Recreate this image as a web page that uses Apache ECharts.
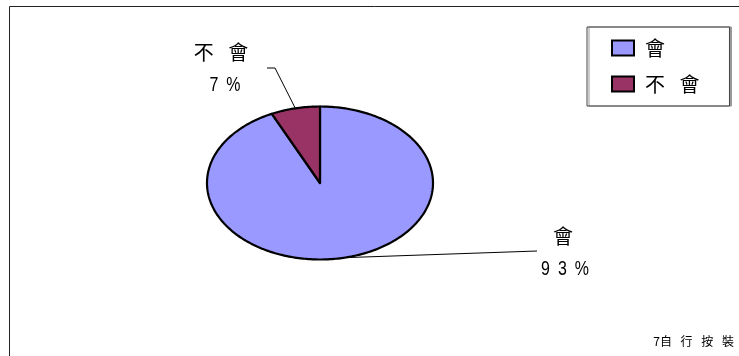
<!DOCTYPE html>
<html>
<head>
<meta charset="utf-8">
<script src="https://cdn.jsdelivr.net/npm/echarts@6/dist/echarts.min.js"></script>
<style>
html,body{margin:0;padding:0;background:#fff;}
#c{width:739px;height:356px;}
</style>
</head>
<body>
<div id="c"></div>
<script>
// ---- data ----
const categories = ['會', '不 會'];
const values = [93, 7];
const percentLabels = ['9 3 %', '7 %'];
const colors = ['#9999FF', '#993366'];
const footnote = '7自 行 按 裝';

// ---- layout ----
const CX = 320, CY = 183, RX = 113, RY = 76.5;
const FONT = "'Liberation Sans','Noto Sans CJK TC',sans-serif";
const CJK = "'Noto Sans CJK TC','Liberation Sans',sans-serif";
const labelLayout = [
  { line: [[537, 251]], name: [563, 236], value: [565, 269] },
  { line: [[275, 68], [267, 68]], name: [221, 52], value: [225, 85] }
];
const spaced = s => s.replace(/ /g, '\u2002 ');
const spacedNum = s => s.replace(/ /g, '\u2002');

const total = values.reduce((a, b) => a + b, 0);
function ell(t) { return [CX + RX * Math.sin(t), CY - RY * Math.cos(t)]; }

function makeRender(idx) {
  return function (params, api) {
    const v = api.value(0);
    let before = 0;
    for (let i = 0; i < idx; i++) before += values[i];
    const a0 = before / total * Math.PI * 2;
    const a1 = (before + v) / total * Math.PI * 2;
    const pts = [[CX, CY]];
    const n = Math.max(4, Math.ceil((a1 - a0) / (Math.PI / 180)));
    for (let k = 0; k <= n; k++) pts.push(ell(a0 + (a1 - a0) * k / n));
    const mid = ell((a0 + a1) / 2);
    const L = labelLayout[idx];
    return {
      type: 'group',
      children: [
        { type: 'polygon', shape: { points: pts },
          style: { fill: colors[idx], stroke: '#000', lineWidth: 2.2, lineJoin: 'round' } },
        { type: 'polyline', shape: { points: [mid].concat(L.line) },
          style: { stroke: '#000', lineWidth: 1, fill: null } },
        { type: 'text', x: L.name[0], y: L.name[1],
          style: { text: spaced(categories[idx]), font: '20px ' + CJK, fill: '#000', align: 'center', verticalAlign: 'middle' } },
        { type: 'text', x: L.value[0], y: L.value[1], scaleX: 0.76,
          style: { text: spacedNum(percentLabels[idx]), font: '21px ' + FONT, fill: '#000', align: 'center', verticalAlign: 'middle' } }
      ]
    };
  };
}

const chart = echarts.init(document.getElementById('c'), null, { renderer: 'canvas' });
chart.setOption({
  animation: false,
  backgroundColor: '#fff',
  legend: {
    orient: 'vertical',
    left: 587, top: 27,
    data: categories,
    icon: 'rect',
    itemWidth: 22, itemHeight: 15,
    itemGap: 16,
    padding: [11, 30, 12, 24],
    borderColor: '#444', borderWidth: 1,
    backgroundColor: '#fff',
    shadowColor: '#999', shadowOffsetX: 2, shadowOffsetY: 0, shadowBlur: 0,
    selectedMode: false,
    itemStyle: { borderColor: '#000', borderWidth: 2 },
    formatter: n => spaced(n),
    textStyle: { fontSize: 20, lineHeight: 20, fontFamily: CJK, color: '#000', padding: [0, 0, 0, 6] }
  },
  graphic: [
    { type: 'polyline', shape: { points: [[9.5, 356], [9.5, 6.5], [739, 6.5]] },
      style: { stroke: '#222', lineWidth: 1, fill: null }, silent: true },
    { type: 'text', right: 5, top: 335,
      style: { text: spaced(footnote), font: '12px ' + CJK, fill: '#000' } }
  ],
  series: categories.map((name, i) => ({
    type: 'custom',
    name: name,
    coordinateSystem: 'none',
    itemStyle: { color: colors[i] },
    data: [[values[i]]],
    renderItem: makeRender(i)
  }))
});
</script>
</body>
</html>
